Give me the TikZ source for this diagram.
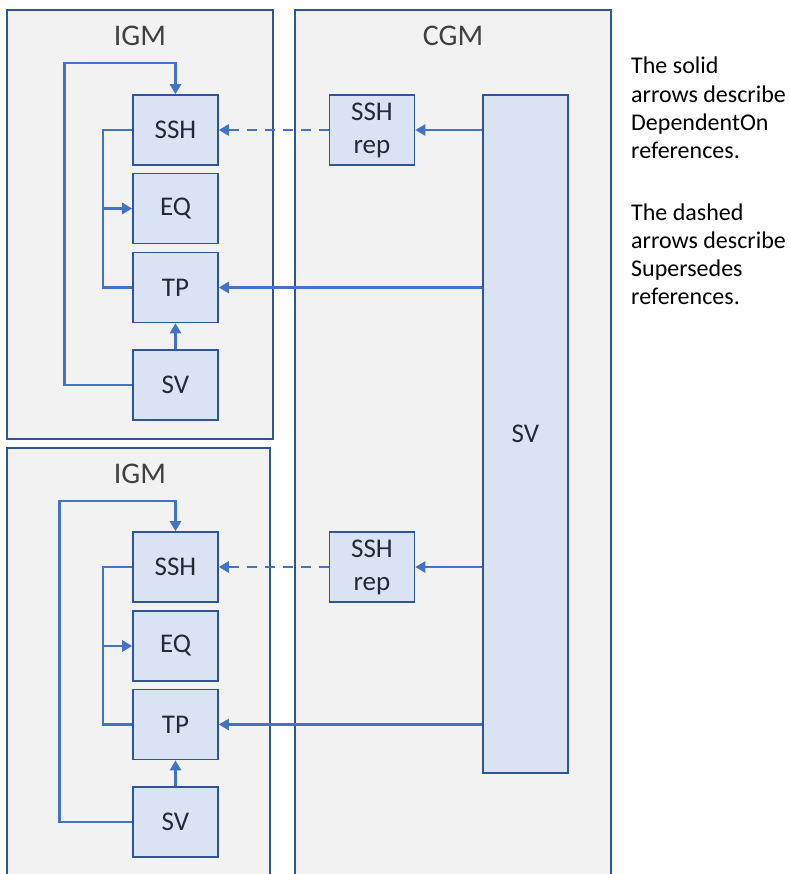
\documentclass[tikz,border=0pt]{standalone}
\usepackage{fontspec}
\setmainfont{Carlito}
\usetikzlibrary{arrows.meta}
\definecolor{frameblue}{HTML}{2F5597}
\definecolor{panelgrey}{HTML}{F2F2F2}
\definecolor{partblue}{HTML}{DAE3F3}
\definecolor{arrowblue}{HTML}{4472C4}
\definecolor{textdark}{HTML}{222A35}
\definecolor{titlegrey}{HTML}{404040}
\tikzset{
  model/.style={draw=frameblue, fill=panelgrey, line width=1.6pt},
  part/.style={draw=frameblue, fill=partblue, line width=1.6pt, inner sep=0pt,
    minimum width=85pt, minimum height=70pt, text=textdark, align=center,
    font=\fontsize{27}{33}\selectfont},
  modeltitle/.style={text=titlegrey, font=\fontsize{30}{36}\selectfont},
  note/.style={text=black, align=left, inner sep=0pt, font=\fontsize{24}{28.3}\selectfont},
  depline/.style={draw=arrowblue, line width=2.6pt},
  depref/.style={depline, -{Triangle[length=10pt,width=11pt]}},
  supref/.style={depref, dash pattern=on 10pt off 8pt},
}
\begin{document}
\begin{tikzpicture}[x=1pt,y=-1pt]
  \useasboundingbox (0,0) rectangle (789,874);
  \clip (0,0) rectangle (789,874);
  % model frames
  \draw[model] (7,10) rectangle (273,439);
  \draw[model] (7,448) rectangle (270,900);
  \draw[model] (295,10) rectangle (611,900);
  \node[modeltitle] (igmA) at (140,36) {IGM};
  \node[modeltitle] (igmB) at (140,474) {IGM};
  \node[modeltitle] (cgm) at (453,36) {CGM};
  % upper IGM
  \node[part] (ssh1) at (175.5,130) {SSH};
  \node[part] (eq1) at (175.5,208.5) {EQ};
  \node[part] (tp1) at (175.5,287.5) {TP};
  \node[part] (sv1) at (175.5,385) {SV};
  % lower IGM
  \node[part] (ssh2) at (175.5,567) {SSH};
  \node[part] (eq2) at (175.5,646) {EQ};
  \node[part] (tp2) at (175.5,724.5) {TP};
  \node[part] (sv2) at (175.5,822) {SV};
  % CGM
  \node[part] (rep1) at (372,130) {SSH\\rep};
  \node[part] (rep2) at (372,567) {SSH\\rep};
  \node[part, minimum height=678pt] (svc) at (525.5,434) {SV};
  % legend
  \node[note, anchor=north west] (legend) at (631,57)
    {The solid\\arrows describe\\DependentOn\\references.\\[33pt]The dashed\\arrows describe\\Supersedes\\references.};
  % references inside the upper IGM
  \coordinate (bus1) at (103,208.5);
  \draw[depref] (sv1.west) -| ++(-68,-322) -| (ssh1.north);
  \draw[depline] (ssh1.west) -| (bus1) |- (tp1.west);
  \draw[depref] (bus1) -- (eq1.west);
  \draw[depref] (sv1.north) -- (tp1.south);
  % references inside the lower IGM
  \coordinate (bus2) at (103,646);
  \draw[depref] (sv2.west) -| ++(-73,-321) -| (ssh2.north);
  \draw[depline] (ssh2.west) -| (bus2) |- (tp2.west);
  \draw[depref] (bus2) -- (eq2.west);
  \draw[depref] (sv2.north) -- (tp2.south);
  % references from the CGM
  \draw[depref] (svc.west |- rep1.east) -- (rep1.east);
  \draw[depref] (svc.west |- tp1.east) -- (tp1.east);
  \draw[depref] (svc.west |- rep2.east) -- (rep2.east);
  \draw[depref] (svc.west |- tp2.east) -- (tp2.east);
  \draw[supref] (rep1.west) -- (ssh1.east);
  \draw[supref] (rep2.west) -- (ssh2.east);
\end{tikzpicture}
\end{document}
